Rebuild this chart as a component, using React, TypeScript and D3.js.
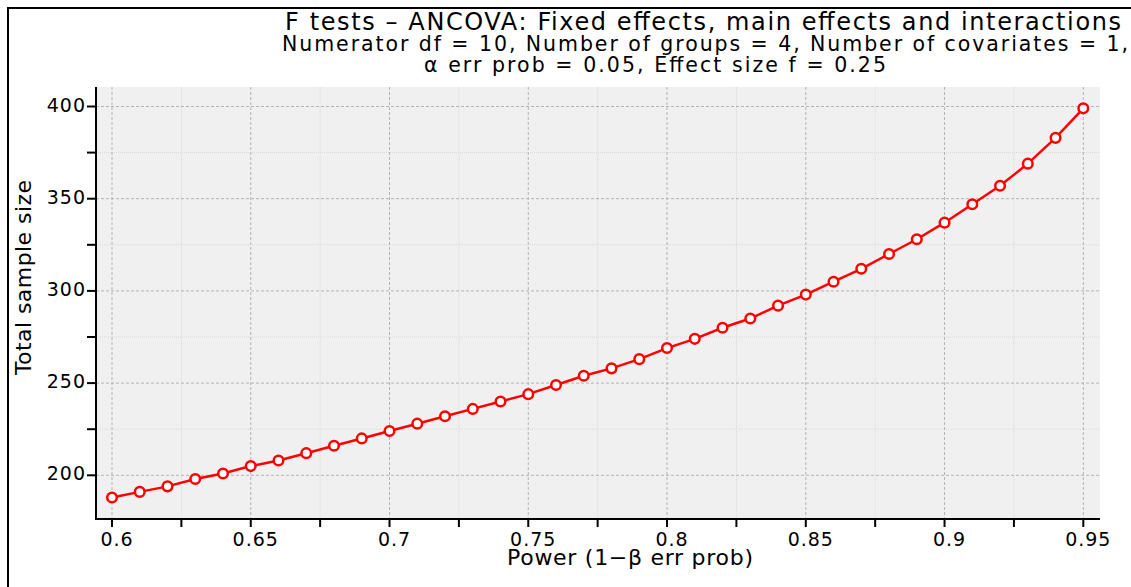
import React from 'react';
import * as d3 from 'd3';

// power values (x) and total sample size
const powerValues = [
  0.6, 0.61, 0.62, 0.63, 0.64, 0.65, 0.66, 0.67, 0.68, 0.69,
  0.7, 0.71, 0.72, 0.73, 0.74, 0.75, 0.76, 0.77, 0.78, 0.79,
  0.8, 0.81, 0.82, 0.83, 0.84, 0.85, 0.86, 0.87, 0.88, 0.89,
  0.9, 0.91, 0.92, 0.93, 0.94, 0.95,
];
const sampleSizes = [
  188, 191, 194, 198, 201, 205, 208, 212, 216, 220,
  224, 228, 232, 236, 240, 244, 249, 254, 258, 263,
  269, 274, 280, 285, 292, 298, 305, 312, 320, 328,
  337, 347, 357, 369, 383, 399,
];
const xTickLabels = ['0.6', '0.65', '0.7', '0.75', '0.8', '0.85', '0.9', '0.95'];
const yTickLabels = ['200', '250', '300', '350', '400'];
const xMinorTicks = [0.625, 0.675, 0.725, 0.775, 0.825, 0.875, 0.925];
const yMinorTicks = [225, 275, 325, 375];

const titleLines = [
  'F tests – ANCOVA: Fixed effects, main effects and interactions',
  'Numerator df = 10, Number of groups = 4, Number of covariates = 1,',
  'α err prob = 0.05, Effect size f = 0.25',
];
const xLabel = 'Power (1−β err prob)';
const yLabel = 'Total sample size';

const W = 1131;
const H = 587;
const plot = { left: 96, right: 1100, top: 87, bottom: 519 };
const font = '"DejaVu Sans", sans-serif';

export default function App() {
  const x = d3.scaleLinear().domain([0.6, 0.95]).range([112, 1083.3]);
  const y = d3.scaleLinear().domain([200, 400]).range([475.3, 106.5]);

  const points = powerValues.map((p, i) => [p, sampleSizes[i]] as [number, number]);
  const line = d3.line<[number, number]>()
    .x(d => x(d[0]))
    .y(d => y(d[1]));

  const xMajor = xTickLabels.map(Number);
  const yMajor = yTickLabels.map(Number);

  return (
    <svg width={W} height={H} style={{ position: 'absolute', left: 0, top: 0, background: '#fff' }}>
      {/* outer frame */}
      <rect x={8} y={8} width={W + 20} height={H + 20} fill="none" stroke="#000" strokeWidth={2} />

      {/* titles */}
      <text x={285} y={30} textLength={836} fontFamily={font} fontSize={24} fill="#000">{titleLines[0]}</text>
      <text x={282} y={51} textLength={846} fontFamily={font} fontSize={20.5} fill="#000">{titleLines[1]}</text>
      <text x={424} y={72} textLength={462} fontFamily={font} fontSize={20.5} fill="#000">{titleLines[2]}</text>

      {/* plot background */}
      <rect x={plot.left} y={plot.top} width={plot.right - plot.left} height={plot.bottom - plot.top} fill="#f0f0f0" />

      {/* minor grid */}
      {xMinorTicks.map(t => (
        <line key={'xm' + t} x1={x(t)} x2={x(t)} y1={plot.top} y2={plot.bottom} stroke="#d9d9d9" strokeWidth={1} strokeDasharray="1,1" />
      ))}
      {yMinorTicks.map(t => (
        <line key={'ym' + t} x1={plot.left} x2={plot.right} y1={y(t)} y2={y(t)} stroke="#d9d9d9" strokeWidth={1} strokeDasharray="1,1" />
      ))}
      {/* major grid */}
      {xMajor.map(t => (
        <line key={'xg' + t} x1={x(t)} x2={x(t)} y1={plot.top} y2={plot.bottom} stroke="#b4b4b4" strokeWidth={1} strokeDasharray="3,2" />
      ))}
      {yMajor.map(t => (
        <line key={'yg' + t} x1={plot.left} x2={plot.right} y1={y(t)} y2={y(t)} stroke="#b4b4b4" strokeWidth={1} strokeDasharray="3,2" />
      ))}

      {/* axes */}
      <line x1={plot.left} x2={plot.left} y1={plot.top} y2={plot.bottom + 1} stroke="#000" strokeWidth={2} />
      <line x1={plot.left - 1} x2={plot.right} y1={plot.bottom} y2={plot.bottom} stroke="#000" strokeWidth={2} />
      {[...xMajor, ...xMinorTicks].map(t => (
        <line key={'xt' + t} x1={x(t)} x2={x(t)} y1={plot.bottom} y2={plot.bottom + 8} stroke="#000" strokeWidth={2} />
      ))}
      {[...yMajor, ...yMinorTicks].map(t => (
        <line key={'yt' + t} x1={plot.left - 9} x2={plot.left} y1={y(t)} y2={y(t)} stroke="#000" strokeWidth={2} />
      ))}
      {xTickLabels.map(l => (
        <text key={'xl' + l} x={x(+l) + 5} y={546} textAnchor="middle" fontFamily={font} fontSize={19} letterSpacing={1} fill="#000">{l}</text>
      ))}
      {yTickLabels.map(l => (
        <text key={'yl' + l} x={86} y={y(+l) + 5} textAnchor="end" fontFamily={font} fontSize={19} letterSpacing={1} fill="#000">{l}</text>
      ))}

      {/* axis titles */}
      <text x={507} y={565} textLength={246} fontFamily={font} fontSize={22} fill="#000">{xLabel}</text>
      <text transform="translate(31,375) rotate(-90)" textLength={195} fontFamily={font} fontSize={22} fill="#000">{yLabel}</text>

      {/* data */}
      <path d={line(points) ?? ''} fill="none" stroke="#ff0000" strokeWidth={2.5} />
      {points.map(d => (
        <circle key={'p' + d[0]} cx={x(d[0])} cy={y(d[1])} r={4.8} fill="#fff" stroke="#ff0000" strokeWidth={2.5} />
      ))}
    </svg>
  );
}
